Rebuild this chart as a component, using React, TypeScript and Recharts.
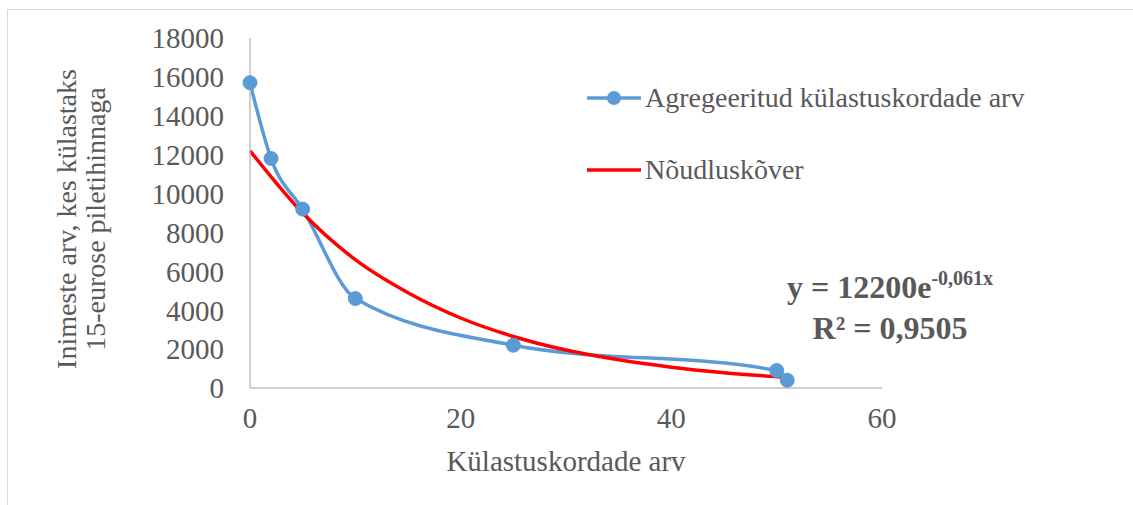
import { ComposedChart, Line, XAxis, YAxis } from 'recharts';

const visitCounts = [0, 2, 5, 10, 25, 50, 51];
const people = [15700, 11800, 9200, 4600, 2200, 900, 400];

// demand curve
const trendX = [0, 5, 10, 15, 20, 25, 30, 35, 40, 45, 51];
const trendY = [12200, 9000, 6600, 4900, 3600, 2650, 1950, 1450, 1070, 790, 540];

const xTicks = [0, 20, 40, 60];
const yTicks = [0, 2000, 4000, 6000, 8000, 10000, 12000, 14000, 16000, 18000];

const observed = visitCounts.map((x, i) => ({ x, y: people[i] }));
const trend = trendX.map((x, i) => ({ x, y: trendY[i] }));

const font = '"Liberation Serif", serif';
const textColor = '#595959';

export default function App() {
  return (
    <div style={{ position: 'fixed', left: 0, top: 0, width: 1133, height: 505, background: '#fff', fontFamily: font }}>
      <div style={{ position: 'absolute', left: 7, top: 9, right: 0, bottom: 0, borderTop: '1px solid #d9d9d9', borderLeft: '1px solid #d9d9d9' }} />
      <ComposedChart width={1133} height={505} margin={{ top: 38, right: 251, left: 0, bottom: 0 }} style={{ position: 'absolute', left: 0, top: 0 }}>
        <XAxis
          type="number"
          dataKey="x"
          domain={[0, 60]}
          ticks={xTicks}
          height={117}
          tickLine={false}
          axisLine={{ stroke: '#bfbfbf', strokeWidth: 1.5 }}
          tick={{ fill: textColor, fontSize: 29, fontFamily: font }}
          tickMargin={13}
          label={{ value: 'Külastuskordade arv', position: 'insideTop', offset: 62, fill: textColor, fontSize: 29, fontFamily: font }}
        />
        <YAxis
          type="number"
          dataKey="y"
          domain={[0, 18000]}
          ticks={yTicks}
          width={250}
          tickLine={false}
          axisLine={{ stroke: '#bfbfbf', strokeWidth: 1.5 }}
          tick={{ fill: textColor, fontSize: 29, fontFamily: font }}
          tickMargin={20}
        />
        <Line
          data={observed}
          dataKey="y"
          type="monotone"
          stroke="#5B9BD5"
          strokeWidth={3.5}
          dot={{ r: 7, fill: '#5B9BD5', stroke: '#5B9BD5', strokeWidth: 1 }}
          isAnimationActive={false}
        />
        <Line
          data={trend}
          dataKey="y"
          type="monotone"
          stroke="#FF0000"
          strokeWidth={3.5}
          dot={false}
          isAnimationActive={false}
        />
      </ComposedChart>

      {/* y-axis title */}
      <div style={{ position: 'absolute', left: 81, top: 219, transform: 'translate(-50%, -50%) rotate(-90deg)', whiteSpace: 'nowrap', textAlign: 'center', color: textColor, fontSize: 28, lineHeight: '29px' }}>
        Inimeste arv, kes külastaks
        <br />
        15-eurose piletihinnaga
      </div>

      {/* legend */}
      <div style={{ position: 'absolute', left: 585, top: 81, color: textColor, fontSize: 28, lineHeight: '34px' }}>
        <div style={{ display: 'flex', alignItems: 'center' }}>
          <svg width={58} height={20}>
            <line x1={2} y1={10} x2={56} y2={10} stroke="#5B9BD5" strokeWidth={3.5} />
            <circle cx={29} cy={10} r={7} fill="#5B9BD5" />
          </svg>
          <span style={{ marginLeft: 2 }}>Agregeeritud külastuskordade arv</span>
        </div>
        <div style={{ display: 'flex', alignItems: 'center', marginTop: 38 }}>
          <svg width={58} height={20}>
            <line x1={2} y1={10} x2={56} y2={10} stroke="#FF0000" strokeWidth={3.5} />
          </svg>
          <span style={{ marginLeft: 2 }}>Nõudluskõver</span>
        </div>
      </div>

      {/* trendline equation */}
      <div style={{ position: 'absolute', left: 890, top: 269, transform: 'translateX(-50%)', textAlign: 'center', color: textColor, fontSize: 32, fontWeight: 'bold', lineHeight: '37px', whiteSpace: 'nowrap' }}>
        <div>
          y = 12200e<span style={{ fontSize: 20, position: 'relative', top: -13 }}>-0,061x</span>
        </div>
        <div>R² = 0,9505</div>
      </div>
    </div>
  );
}
